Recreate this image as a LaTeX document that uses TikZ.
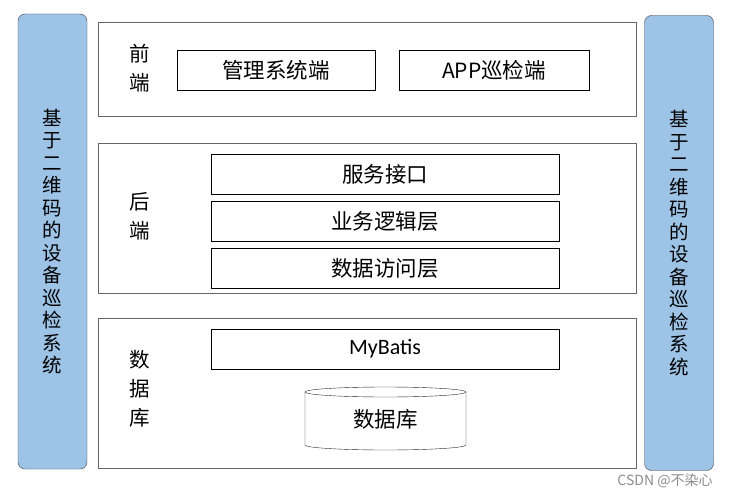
\documentclass[tikz,border=0pt]{standalone}
\usepackage{fontspec}
\setmainfont{Carlito}
\newfontfamily\cjk{Noto Sans CJK SC}
\definecolor{barblue}{RGB}{157,195,230}

\begin{document}
\begin{tikzpicture}[x=1pt, y=-1pt,
  sidebar/.style={draw=black!75, fill=barblue, rounded corners=7pt, minimum width=69pt, minimum height=455pt, align=center, font=\cjk\fontsize{19.5}{22.5}\selectfont},
  layer/.style={draw=black!60, fill=white, minimum width=538pt},
  part/.style={draw=black, fill=white, minimum height=40pt, font=\cjk\fontsize{21.5}{24}\selectfont},
  tag/.style={align=center, font=\cjk\fontsize{20.5}{29}\selectfont}]

\useasboundingbox (0,0) rectangle (730,497);

% side bars
\node [sidebar] (left) at (52.5,241.5) {基\\于\\二\\维\\码\\的\\设\\备\\巡\\检\\系\\统};
\node [sidebar] (right) at (679,243) {基\\于\\二\\维\\码\\的\\设\\备\\巡\\检\\系\\统};

% front end
\node [layer, minimum height=94pt] (front) at (367,69) {};
\node [tag] (fronttag) at (140,68) {前\\端};
\node [part, minimum width=198pt] (manage) at (276,70) {管理系统端};
\node [part, minimum width=190pt] (app) at (494,70) {{\fontsize{21}{24}\selectfont APP}巡检端};

% back end
\node [layer, minimum height=150pt] (back) at (367,218) {};
\node [tag] (backtag) at (140,216) {后\\端};
\node [part, minimum width=348pt] (service) at (385,174) {服务接口};
\node [part, minimum width=348pt] (logic) at (385,221) {业务逻辑层};
\node [part, minimum width=348pt] (access) at (385,268) {数据访问层};

% database
\node [layer, minimum height=150pt] (data) at (367,393) {};
\node [tag] (datatag) at (140,389) {数\\据\\库};
\node [part, minimum width=348pt, font=\fontsize{22}{24}\selectfont] (mybatis) at (385,349) {MyBatis};
\draw [black!85, fill=white] (305,392) -- (305,445) arc [start angle=180, end angle=0, x radius=80.5, y radius=5] -- (466,392);
\draw [black!85, fill=white] (385.5,392) ellipse (80.5 and 5);
\node [font=\cjk\fontsize{21.5}{24}\selectfont] (dbcyl) at (385.5,419) {数据库};

% watermark
\node [text=black!45, font=\cjk\fontsize{14}{16}\selectfont] (mark) at (665,481) {CSDN @不染心};

\end{tikzpicture}
\end{document}
